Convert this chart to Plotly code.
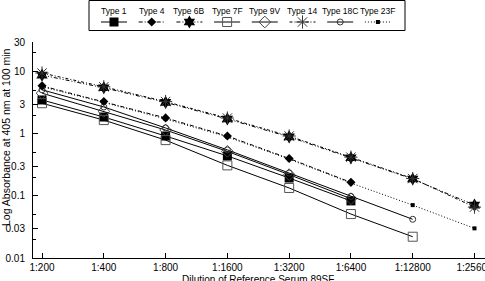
import plotly.graph_objects as go

dilutions = ["1:200", "1:400", "1:800", "1:1600", "1:3200", "1:6400", "1:12800", "1:25600"]

type_1 = [3.5, 1.86, 0.92, 0.44, 0.194, 0.083]
type_4 = [5.9, 3.3, 1.8, 0.92, 0.40, 0.165]
type_6B = [8.8, 5.5, 3.2, 1.73, 0.89, 0.41, 0.187, 0.071]
type_7F = [3.1, 1.66, 0.79, 0.31, 0.134, 0.051, 0.022]
type_9V = [4.5, 2.3, 1.15, 0.52, 0.22, 0.09]
type_14 = [9.5, 5.7, 3.3, 1.79, 0.92, 0.42, 0.19, 0.066]
type_18C = [5.1, 2.7, 1.24, 0.55, 0.233, 0.098, 0.042]
type_23F = [5.7, 3.2, 1.73, 0.89, 0.39, 0.161, 0.071, 0.030]

y_ticks = [30, 10, 3, 1, 0.3, 0.1, 0.03, 0.01]
y_tick_text = ["30", "10", "3", "1", "0.3", "0.1", "0.03", "0.01"]

series = [
    ("Type 1", type_1, dict(symbol="square", size=9, color="black"), "solid"),
    ("Type 4", type_4, dict(symbol="diamond", size=7, color="black"), "4px,2px,1px,2px"),
    ("Type 6B", type_6B, dict(symbol="hexagram", size=10, color="black"), "4px,2px,1px,2px,1px,2px"),
    ("Type 7F", type_7F, dict(symbol="square-open", size=9, color="#555", line=dict(width=1)), "solid"),
    ("Type 9V", type_9V, dict(symbol="diamond-open", size=9, color="#444", line=dict(width=1)), "solid"),
    ("Type 14", type_14, dict(symbol="asterisk-open", size=11, color="#333", line=dict(width=1, color="#333")), "3px,2px,1px,2px"),
    ("Type 18C", type_18C, dict(symbol="circle-open", size=6, color="#333", line=dict(width=1)), "solid"),
    ("Type 23F", type_23F, dict(symbol="square", size=4, color="black"), "1px,2px"),
]

FONT = "Liberation Sans, Arial, sans-serif"
fig = go.Figure()

n_cat = len(dilutions)
for name, vals, marker, dash in series:
    fig.add_trace(go.Scatter(
        x=list(range(len(vals))), y=vals, name=name, mode="lines+markers",
        line=dict(color="black", width=1, dash=dash), marker=marker,
        showlegend=False, xaxis="x", yaxis="y", cliponaxis=False,
    ))

# custom legend (text above sample), laid out by series index in a pixel-like axis
leg_x0 = 114
leg_step = 37.7
for i, (name, vals, marker, dash) in enumerate(series):
    cx = leg_x0 + leg_step * i
    fig.add_trace(go.Scatter(
        x=[cx - 13, cx + 13], y=[22, 22], mode="lines",
        line=dict(color="black", width=1, dash=dash), showlegend=False,
        xaxis="x2", yaxis="y2", hoverinfo="skip",
    ))
    fig.add_trace(go.Scatter(
        x=[cx], y=[22], mode="markers", marker=marker, showlegend=False,
        xaxis="x2", yaxis="y2", hoverinfo="skip", cliponaxis=False,
    ))
    fig.add_annotation(x=cx, y=10.5, xref="x2", yref="y2", text=name, showarrow=False,
                       font=dict(family=FONT, size=8.5, color="black"))

fig.add_shape(type="rect", xref="x2", yref="y2", x0=89, x1=405, y0=0.5, y1=30.5,
              line=dict(color="black", width=1))

fig.update_layout(
    width=485, height=281,
    margin=dict(l=33, r=0, t=0, b=23),
    paper_bgcolor="white", plot_bgcolor="white",
    font=dict(family=FONT, size=10, color="black"),
    xaxis=dict(
        domain=[0, 1], range=[-0.146, 7.17],
        tickvals=list(range(n_cat)), ticktext=dilutions,
        ticks="inside", ticklen=5, tickcolor="black",
        showline=True, linecolor="black", linewidth=1,
        showgrid=False, zeroline=False, automargin=False,
        ticklabeloverflow="allow",
        tickfont=dict(size=10),
    ),
    yaxis=dict(
        type="log", domain=[0, 216 / 258], range=[-2, 1.4771],
        tickvals=y_ticks, ticktext=y_tick_text,
        ticks="inside", ticklen=5, tickcolor="black",
        showline=True, linecolor="black", linewidth=1,
        showgrid=False, zeroline=False, automargin=False,
        ticklabelstandoff=5, ticklabeloverflow="allow",
        minor=dict(tickvals=[20, 5, 2, 0.5, 0.2, 0.05, 0.02], ticks="inside", ticklen=3, tickcolor="black"),
        tickfont=dict(size=10),
    ),
    xaxis2=dict(domain=[0, 1], range=[33, 485], visible=False, fixedrange=True, anchor="y2"),
    yaxis2=dict(domain=[227 / 258, 1], range=[31, 0], visible=False, fixedrange=True, anchor="x2"),
)

fig.add_annotation(text="Log Absorbance at 405 nm at 100 min", xref="paper", yref="paper",
                   x=-27 / 452, y=121 / 258, xanchor="center", yanchor="middle",
                   textangle=-90, showarrow=False,
                   font=dict(family=FONT, size=10.5, color="black"))
fig.add_annotation(text="Dilution of Reference Serum 89SF", xref="paper", yref="paper",
                   x=(258 - 33) / 452, y=-21 / 258, xanchor="center", yanchor="middle",
                   showarrow=False,
                   font=dict(family=FONT, size=10, color="black"))

fig.write_html("out.html")
